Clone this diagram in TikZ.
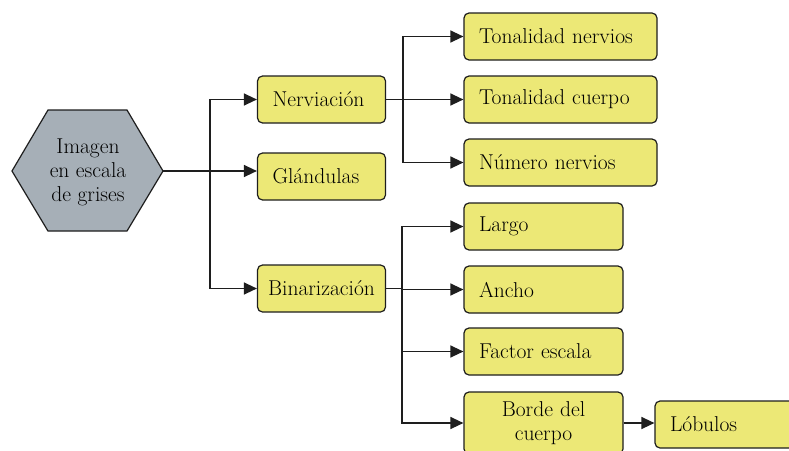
\documentclass[tikz,border=0pt]{standalone}
\usetikzlibrary{arrows.meta,calc}
\definecolor{boxyellow}{RGB}{236,232,118}
\definecolor{hexgray}{RGB}{166,175,183}
\definecolor{edgecol}{RGB}{30,30,30}
\begin{document}
\begin{tikzpicture}[x=1pt,y=-1pt,
  every node/.style={font=\rmfamily\fontsize{21.5}{24}\selectfont, text=black},
  ybox/.style={draw=edgecol, line width=1.2pt, fill=boxyellow, rounded corners=5pt,
    minimum height=47pt, inner xsep=15pt, inner ysep=0pt, align=left},
  leftbox/.style={ybox, text width=#1-30pt, minimum width=#1},
  centerbox/.style={ybox, align=center, text width=#1-30pt, minimum width=#1},
  conn/.style={line width=1.3pt, draw=edgecol},
  arr/.style={conn, -{Triangle[length=13pt,width=12pt]}}
]
\clip (0,0) rectangle (789,450);
\fill[white] (0,0) rectangle (789,450);

% hexagon
\draw[draw=edgecol, line width=1.2pt, fill=hexgray]
  (12,171) -- (48,110) -- (127,110) -- (163,171) -- (127,231) -- (48,231) -- cycle;
\node[align=center] (img) at (88,172) {Imagen\\en escala\\de grises};
\coordinate (imgR) at (163,171);
\coordinate (t1) at (210,171);

% level 1
\node[leftbox=128pt] (nerv) at (321.5,99.5) {Nerviación};
\node[leftbox=128pt] (gla) at (321.5,176.5) {Glándulas};
\node[centerbox=128pt, inner xsep=3pt, text width=122pt] (bin) at (321.5,288.5) {Binarización};

% level 2 upper
\node[leftbox=193pt] (ton1) at (560.5,36.5) {Tonalidad nervios};
\node[leftbox=193pt] (ton2) at (560.5,99.5) {Tonalidad cuerpo};
\node[leftbox=193pt] (num) at (560.5,162.5) {Número nervios};

% level 2 lower
\node[leftbox=159pt] (lar) at (543.5,226.5) {Largo};
\node[leftbox=159pt] (anc) at (543.5,289.5) {Ancho};
\node[leftbox=159pt] (fac) at (543.5,351.5) {Factor escala};
\node[centerbox=159pt, minimum height=62pt] (bor) at (543.5,423) {Borde del\\cuerpo};
\node[leftbox=159pt] (lob) at (734.5,424.5) {Lóbulos};

% connectors
\draw[arr] (imgR) -- (imgR -| gla.west);
\draw[arr] (t1) |- (nerv.west);
\draw[arr] (t1) |- (bin.west);

\coordinate (t2) at ($(nerv.east)+(17,0)$);
\draw[arr] (nerv.east) -- (ton2.west);
\draw[arr] (t2) |- (ton1.west);
\draw[arr] (t2) |- (num.west);

\coordinate (t3) at ($(bin.east)+(16,0)$);
\draw[conn] (bin.east) -- (t3);
\draw[arr] (t3) |- (lar.west);
\draw[arr] (t3) |- (anc.west);
\draw[arr] (t3) |- (fac.west);
\draw[arr] (t3) |- (bor.west);
\draw[arr] (bor.east) -- (bor.east -| lob.west);
\end{tikzpicture}
\end{document}
